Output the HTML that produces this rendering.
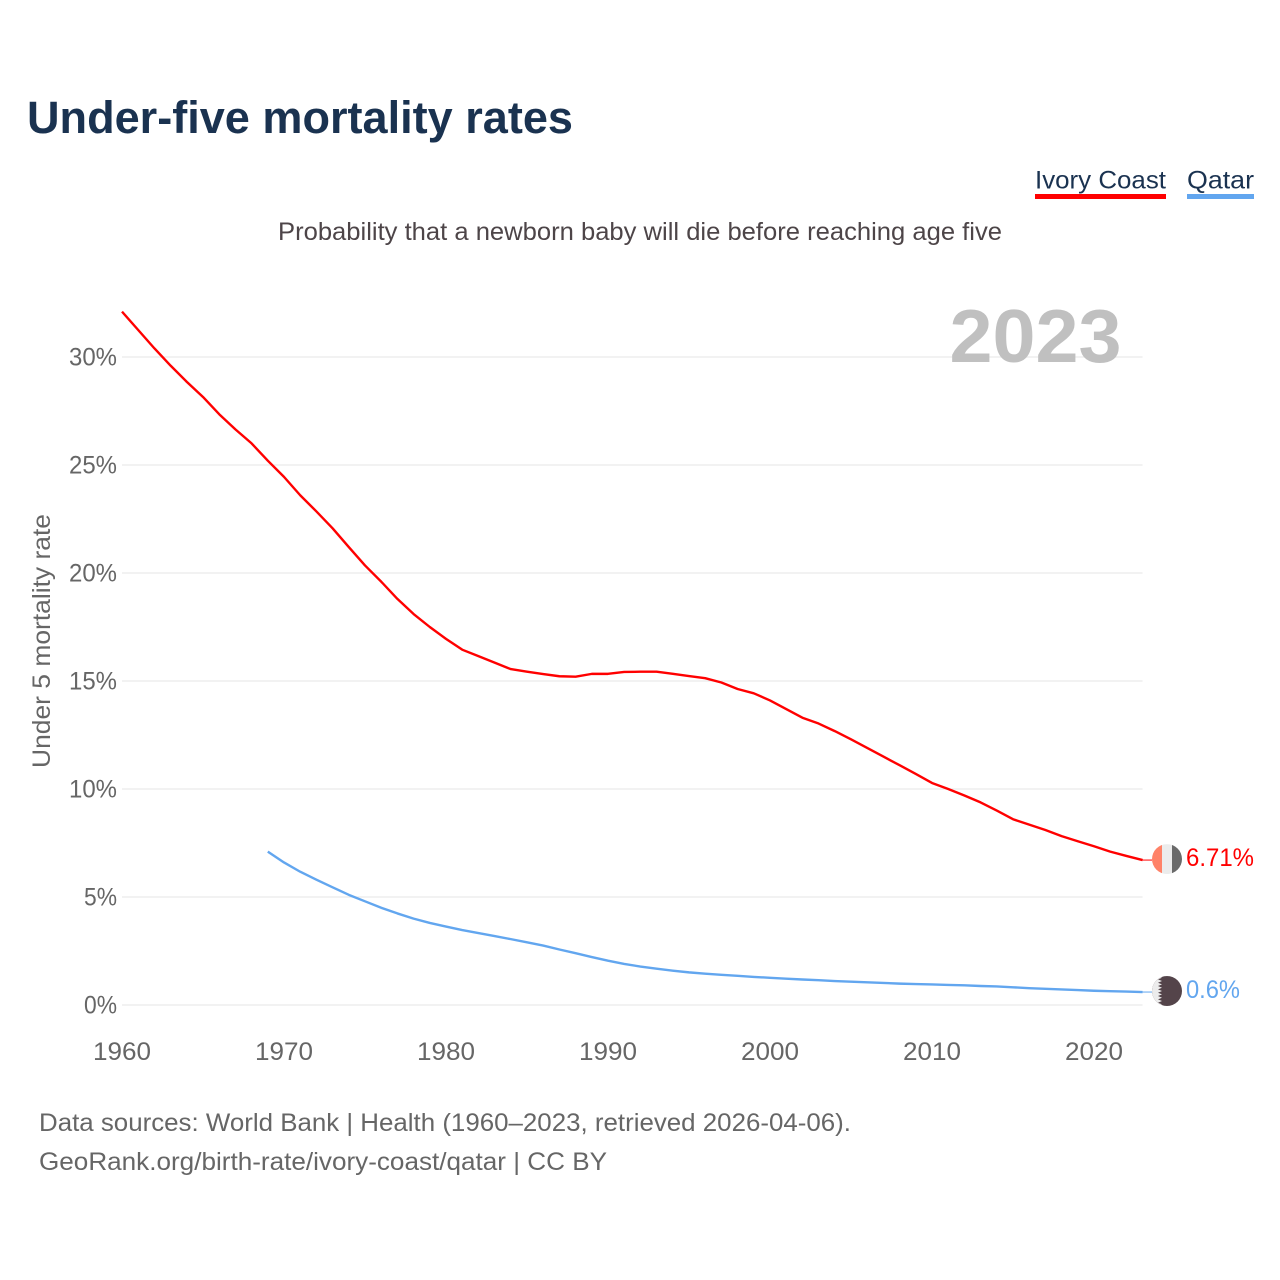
<!DOCTYPE html>
<html lang="en">
<head>
<meta charset="utf-8">
<title>Under-five mortality rates</title>
<style>
html,body{margin:0;padding:0;background:#fff;width:1280px;height:1280px;overflow:hidden}
svg{display:block;font-family:"Liberation Sans",sans-serif}
</style>
</head>
<body>
<svg id="chart" xmlns="http://www.w3.org/2000/svg" width="1280" height="1280" viewBox="0 0 1280 1280">
  <rect width="1280" height="1280" fill="#fff"/>
  <text x="27" y="133" font-size="45" font-weight="700" fill="#1a3250" textLength="546" lengthAdjust="spacingAndGlyphs">Under-five mortality rates</text>
  <text x="278" y="240" font-size="25" fill="#4d4548" textLength="724" lengthAdjust="spacingAndGlyphs">Probability that a newborn baby will die before reaching age five</text>
  <g>
    <text x="1035" y="188.5" font-size="25" fill="#1a3250" textLength="131" lengthAdjust="spacingAndGlyphs">Ivory Coast</text>
    <rect x="1035" y="194" width="131" height="5" fill="#ff0000"/>
  </g>
  <g>
    <text x="1187" y="188.5" font-size="25" fill="#1a3250" textLength="67" lengthAdjust="spacingAndGlyphs">Qatar</text>
    <rect x="1187" y="194" width="67" height="5" fill="#62a6ef"/>
  </g>
  <text transform="translate(50,768) rotate(-90)" font-size="25" fill="#666" textLength="254" lengthAdjust="spacingAndGlyphs">Under 5 mortality rate</text>
  <g id="grid"></g>
  <g id="yticks"></g>
  <g id="xticks"></g>
  <text x="949.5" y="362" font-size="75" font-weight="700" fill="#c0c0c0" textLength="172" lengthAdjust="spacingAndGlyphs">2023</text>
  <g id="series"></g>
  <g id="ends"></g>
  <text x="39" y="1131" font-size="25" fill="#666" textLength="812" lengthAdjust="spacingAndGlyphs">Data sources: World Bank | Health (1960–2023, retrieved 2026-04-06).</text>
  <text x="39" y="1170" font-size="25" fill="#666" textLength="568" lengthAdjust="spacingAndGlyphs">GeoRank.org/birth-rate/ivory-coast/qatar | CC BY</text>
</svg>
<script>
const yTickValues = [0, 5, 10, 15, 20, 25, 30];
const xTickYears = [1960, 1970, 1980, 1990, 2000, 2010, 2020];
const ivoryStartYear = 1960;
const ivoryCoastValues = [32.1,31.25,30.4,29.6,28.85,28.15,27.35,26.65,26.0,25.2,24.45,23.6,22.85,22.07,21.2,20.35,19.6,18.8,18.1,17.5,16.95,16.45,16.15,15.85,15.55,15.43,15.32,15.22,15.2,15.33,15.33,15.42,15.43,15.43,15.33,15.23,15.13,14.93,14.63,14.43,14.1,13.7,13.3,13.03,12.68,12.3,11.9,11.5,11.1,10.7,10.28,10.0,9.7,9.38,9.0,8.6,8.35,8.1,7.82,7.58,7.35,7.1,6.9,6.71];
const qatarStartYear = 1969;
const qatarValues = [7.1,6.6,6.17,5.8,5.45,5.1,4.8,4.5,4.24,4.0,3.8,3.63,3.47,3.33,3.19,3.05,2.9,2.75,2.57,2.4,2.22,2.05,1.9,1.78,1.68,1.59,1.51,1.45,1.4,1.35,1.3,1.26,1.22,1.18,1.15,1.11,1.08,1.05,1.02,0.99,0.97,0.95,0.93,0.91,0.88,0.86,0.82,0.78,0.75,0.72,0.69,0.66,0.64,0.62,0.6];
const ivoryEndLabel = "6.71%";
const qatarEndLabel = "0.6%";

const NS = "http://www.w3.org/2000/svg";
const xScale = year => 122 + (year - 1960) * 16.2;
const yScale = pct => 1005 - pct * 21.6;
const lastYear = 2023;

function svgEl(tag, attrs, parent) {
  const el = document.createElementNS(NS, tag);
  for (const k in attrs) el.setAttribute(k, attrs[k]);
  parent.appendChild(el);
  return el;
}

const gridG = document.getElementById("grid");
const yG = document.getElementById("yticks");
yTickValues.forEach(v => {
  const line = svgEl("line", {x1: 122, x2: xScale(lastYear), y1: yScale(v), y2: yScale(v), stroke: "#ebebeb", "stroke-width": 1.3}, gridG);
  
  
  const label = v + "%";
  const t = svgEl("text", {x: 117, y: yScale(v) + 8.5, "text-anchor": "end", "font-size": 25, fill: "#666", textLength: label.length > 2 ? 48 : 33, lengthAdjust: "spacingAndGlyphs"}, yG);
  
  
  t.textContent = label;
});

const xG = document.getElementById("xticks");
xTickYears.forEach(y => {
  const t = svgEl("text", {x: xScale(y), y: 1060, "text-anchor": "middle", "font-size": 25, fill: "#666", textLength: 58, lengthAdjust: "spacingAndGlyphs"}, xG);
  
  
  t.textContent = y;
});

function linePoints(start, values) {
  return values.map((v, i) => xScale(start + i).toFixed(2) + "," + yScale(v).toFixed(2)).join(" ");
}
const seriesG = document.getElementById("series");
const ivoryLine = svgEl("polyline", {points: linePoints(ivoryStartYear, ivoryCoastValues), fill: "none", stroke: "#ff0000", "stroke-width": 2.4, "stroke-linejoin": "round"}, seriesG);


const qatarLine = svgEl("polyline", {points: linePoints(qatarStartYear, qatarValues), fill: "none", stroke: "#62a6ef", "stroke-width": 2.4, "stroke-linejoin": "round"}, seriesG);



const endsG = document.getElementById("ends");
const defs = svgEl("defs", {}, endsG);
const clip = svgEl("clipPath", {id: "flag-clip"}, defs);
svgEl("circle", {cx: 0, cy: 0, r: 15}, clip);

const endX = xScale(lastYear);

// Ivory Coast end marker
const ivoryY = yScale(ivoryCoastValues[ivoryCoastValues.length - 1]);
const ivoryLeader = svgEl("line", {x1: endX, x2: 1152, y1: ivoryY, y2: ivoryY, stroke: "#ff0000", "stroke-width": 1}, endsG);


const ivoryFlag = svgEl("g", {transform: "translate(1167," + (ivoryY - 1) + ")", "clip-path": "url(#flag-clip)"}, endsG);


svgEl("rect", {x: -15, y: -15, width: 10, height: 30, fill: "#ff8268"}, ivoryFlag);
svgEl("rect", {x: -5, y: -15, width: 10, height: 30, fill: "#ececec"}, ivoryFlag);
svgEl("rect", {x: 5, y: -15, width: 10, height: 30, fill: "#6a6a6a"}, ivoryFlag);
const ivoryText = svgEl("text", {x: 1186, y: ivoryY + 6, "font-size": 25, fill: "#ff0000", textLength: 68, lengthAdjust: "spacingAndGlyphs"}, endsG);


ivoryText.textContent = ivoryEndLabel;

// Qatar end marker
const qatarY = yScale(qatarValues[qatarValues.length - 1]);
const qatarLeader = svgEl("line", {x1: endX, x2: 1152, y1: qatarY, y2: qatarY, stroke: "#62a6ef", "stroke-width": 1}, endsG);


const qatarFlag = svgEl("g", {transform: "translate(1167," + (qatarY - 1) + ")", "clip-path": "url(#flag-clip)"}, endsG);


svgEl("rect", {x: -15, y: -15, width: 30, height: 30, fill: "#54444a"}, qatarFlag);
svgEl("polygon", {points: "-15,-15 -9,-15 -5,-13.33 -9,-11.67 -5,-10 -9,-8.33 -5,-6.67 -9,-5 -5,-3.33 -9,-1.67 -5,0 -9,1.67 -5,3.33 -9,5 -5,6.67 -9,8.33 -5,10 -9,11.67 -5,13.33 -9,15 -15,15", fill: "#ececec"}, qatarFlag);
const qatarText = svgEl("text", {x: 1186, y: qatarY + 6, "font-size": 25, fill: "#62a6ef", textLength: 54, lengthAdjust: "spacingAndGlyphs"}, endsG);


qatarText.textContent = qatarEndLabel;
</script>
</body>
</html>
